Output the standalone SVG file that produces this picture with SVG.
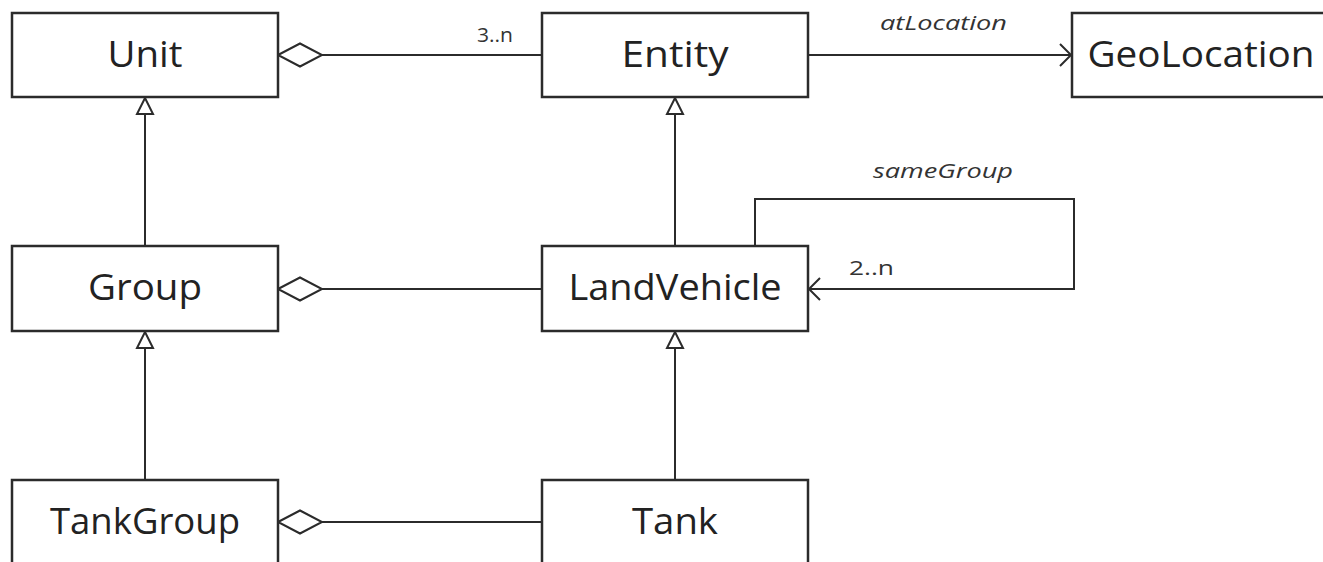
<svg xmlns="http://www.w3.org/2000/svg" width="1323" height="562" viewBox="0 0 1323 562">
  <style>
    .box { fill: #ffffff; stroke: #2b2b2b; stroke-width: 2.5; }
    .name { font-family: "Open Sans", "Liberation Sans", sans-serif; font-size: 36px; fill: #222222; text-anchor: middle; }
    .lbl { font-family: "Open Sans", "Liberation Sans", sans-serif; font-size: 20px; fill: #333333; }
    .it { font-style: italic; }
    .edge { fill: none; stroke: #2b2b2b; stroke-width: 2; }
    .hollow { fill: #ffffff; stroke: #2b2b2b; stroke-width: 2; stroke-linejoin: miter; }
  </style>
  <defs>
    <!-- open navigation arrowhead, tip at the path end -->
    <marker id="open" markerWidth="14" markerHeight="26" refX="12" refY="12" orient="auto" markerUnits="userSpaceOnUse" overflow="visible">
      <path d="M1,1 L12,12 L1,23" fill="none" stroke="#2b2b2b" stroke-width="2"/>
    </marker>
  </defs>
  <rect width="1323" height="562" fill="#ffffff"/>

  <g id="connectors">
    <!-- Unit ◇— Entity -->
    <line class="edge" x1="322" y1="55" x2="542" y2="55"/>
    <polygon class="hollow" points="278,55 300,43.5 322,55 300,66.5"/>
    <text class="lbl" x="477" y="42" textLength="36" lengthAdjust="spacingAndGlyphs">3..n</text>

    <!-- Entity → GeoLocation -->
    <line class="edge" x1="808" y1="55" x2="1071" y2="55" marker-end="url(#open)"/>
    <text class="lbl it" x="880" y="30" textLength="127" lengthAdjust="spacingAndGlyphs">atLocation</text>

    <!-- Group ▷ Unit -->
    <line class="edge" x1="145" y1="114" x2="145" y2="246"/>
    <polygon class="hollow" points="145,98 153,114 137,114"/>

    <!-- LandVehicle ▷ Entity -->
    <line class="edge" x1="675" y1="114" x2="675" y2="246"/>
    <polygon class="hollow" points="675,98 683,114 667,114"/>

    <!-- Group ◇— LandVehicle -->
    <line class="edge" x1="322" y1="289" x2="542" y2="289"/>
    <polygon class="hollow" points="278,289 300,277.5 322,289 300,300.5"/>

    <!-- sameGroup self association -->
    <polyline class="edge" points="755,246 755,199 1074,199 1074,289 809,289" marker-end="url(#open)"/>
    <text class="lbl it" x="873" y="178" textLength="140" lengthAdjust="spacingAndGlyphs">sameGroup</text>
    <text class="lbl" x="849" y="275" textLength="45" lengthAdjust="spacingAndGlyphs">2..n</text>

    <!-- TankGroup ▷ Group -->
    <line class="edge" x1="145" y1="348" x2="145" y2="480"/>
    <polygon class="hollow" points="145,332 153,348 137,348"/>

    <!-- Tank ▷ LandVehicle -->
    <line class="edge" x1="675" y1="348" x2="675" y2="480"/>
    <polygon class="hollow" points="675,332 683,348 667,348"/>

    <!-- TankGroup ◇— Tank -->
    <line class="edge" x1="322" y1="522" x2="542" y2="522"/>
    <polygon class="hollow" points="278,522 300,510.5 322,522 300,533.5"/>
  </g>

  <g id="unit">
    <rect class="box" x="12" y="13" width="266" height="84"/>
    <text class="name" x="145" y="67" textLength="75" lengthAdjust="spacingAndGlyphs">Unit</text>
  </g>
  <g id="entity">
    <rect class="box" x="542" y="13" width="266" height="84"/>
    <text class="name" x="675" y="67" textLength="107" lengthAdjust="spacingAndGlyphs">Entity</text>
  </g>
  <g id="geolocation">
    <rect class="box" x="1072" y="13" width="266" height="84"/>
    <text class="name" x="1201" y="67" textLength="227" lengthAdjust="spacingAndGlyphs">GeoLocation</text>
  </g>
  <g id="group">
    <rect class="box" x="12" y="246" width="266" height="85"/>
    <text class="name" x="145" y="300" textLength="114" lengthAdjust="spacingAndGlyphs">Group</text>
  </g>
  <g id="landvehicle">
    <rect class="box" x="542" y="246" width="266" height="85"/>
    <text class="name" x="675" y="300" textLength="213" lengthAdjust="spacingAndGlyphs">LandVehicle</text>
  </g>
  <g id="tankgroup">
    <rect class="box" x="12" y="480" width="266" height="100"/>
    <text class="name" x="145" y="534" textLength="190" lengthAdjust="spacingAndGlyphs">TankGroup</text>
  </g>
  <g id="tank">
    <rect class="box" x="542" y="480" width="266" height="100"/>
    <text class="name" x="675" y="534" textLength="86" lengthAdjust="spacingAndGlyphs">Tank</text>
  </g>
</svg>
